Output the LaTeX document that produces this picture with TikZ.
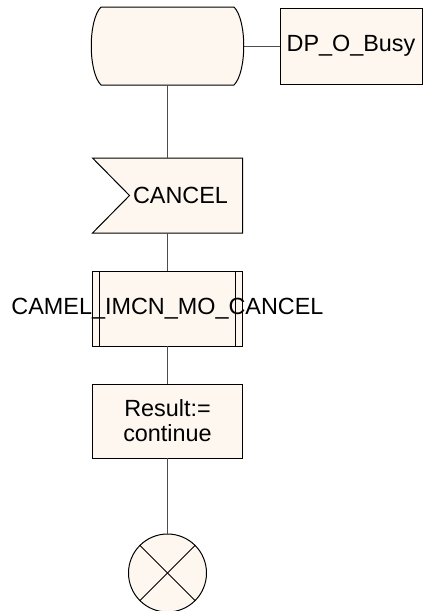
\documentclass[tikz,border=0pt]{standalone}
\usepackage{fontspec}
\setmainfont{Liberation Sans}
\usetikzlibrary{positioning, backgrounds}
\definecolor{sdlcream}{RGB}{254,247,240}

\begin{document}
\begin{tikzpicture}[
    every node/.style={font=\fontsize{11.7}{12.5}\selectfont, inner sep=0pt, outer sep=0pt},
    sdlbox/.style={rectangle, draw=black, fill=sdlcream, minimum width=75pt, minimum height=37.5pt, line width=0.5pt},
    shapeonly/.style={rectangle, minimum width=75pt, minimum height=37.5pt},
    outline/.style={draw=black, fill=sdlcream, line width=0.5pt},
    flow/.style={draw=black!70, line width=0.5pt},
]
\useasboundingbox (0,0) rectangle (213pt,-305.5pt);

% State symbol
\node[shapeonly, minimum width=76.5pt, minimum height=39pt] (state) at (83.75pt,-23pt) {};
\node[sdlbox, minimum width=71pt, minimum height=38pt, right=18pt of state] (dpbusy) {DP\_O\_Busy};

% Input signal
\node[shapeonly, below=36.5pt of state] (cancel) {\hspace*{13pt}CANCEL};

% Procedure call
\node[sdlbox, below=19pt of cancel] (camelproc) {\makebox[0pt]{\raisebox{-1pt}{CAMEL\_IMCN\_MO\_CANCEL}}};
\draw[line width=0.5pt] ([xshift=3.5pt]camelproc.north west) -- ([xshift=3.5pt]camelproc.south west);
\draw[line width=0.5pt] ([xshift=-3.5pt]camelproc.north east) -- ([xshift=-3.5pt]camelproc.south east);

% Task
\node[sdlbox, minimum height=37pt, align=center, below=19pt of camelproc] (result) {Result:=\\continue};

% Stop
\node[circle, draw=black, fill=sdlcream, line width=0.5pt, minimum size=39pt, below=38pt of result] (stop) {};
\draw[line width=0.5pt] (stop.45) -- (stop.225);
\draw[line width=0.5pt] (stop.135) -- (stop.-45);

\begin{scope}[on background layer]
\path[outline] ([xshift=5pt]state.north west) -- ([xshift=-5pt]state.north east)
    .. controls +(6.5pt,-6.5pt) and +(6.5pt,6.5pt) .. ([xshift=-5pt]state.south east)
    -- ([xshift=5pt]state.south west)
    .. controls +(-6.5pt,6.5pt) and +(-6.5pt,-6.5pt) .. cycle;
\path[outline] (cancel.north west) -- (cancel.north east) -- (cancel.south east)
    -- (cancel.south west) -- ([xshift=18.5pt]cancel.west) -- cycle;
\end{scope}

% Connectors
\draw[flow] (state.east) -- (dpbusy.west);
\draw[flow] (state.south) -- (cancel.north);
\draw[flow] (cancel.south) -- (camelproc.north);
\draw[flow] (camelproc.south) -- (result.north);
\draw[flow] (result.south) -- (stop.north);
\end{tikzpicture}
\end{document}
